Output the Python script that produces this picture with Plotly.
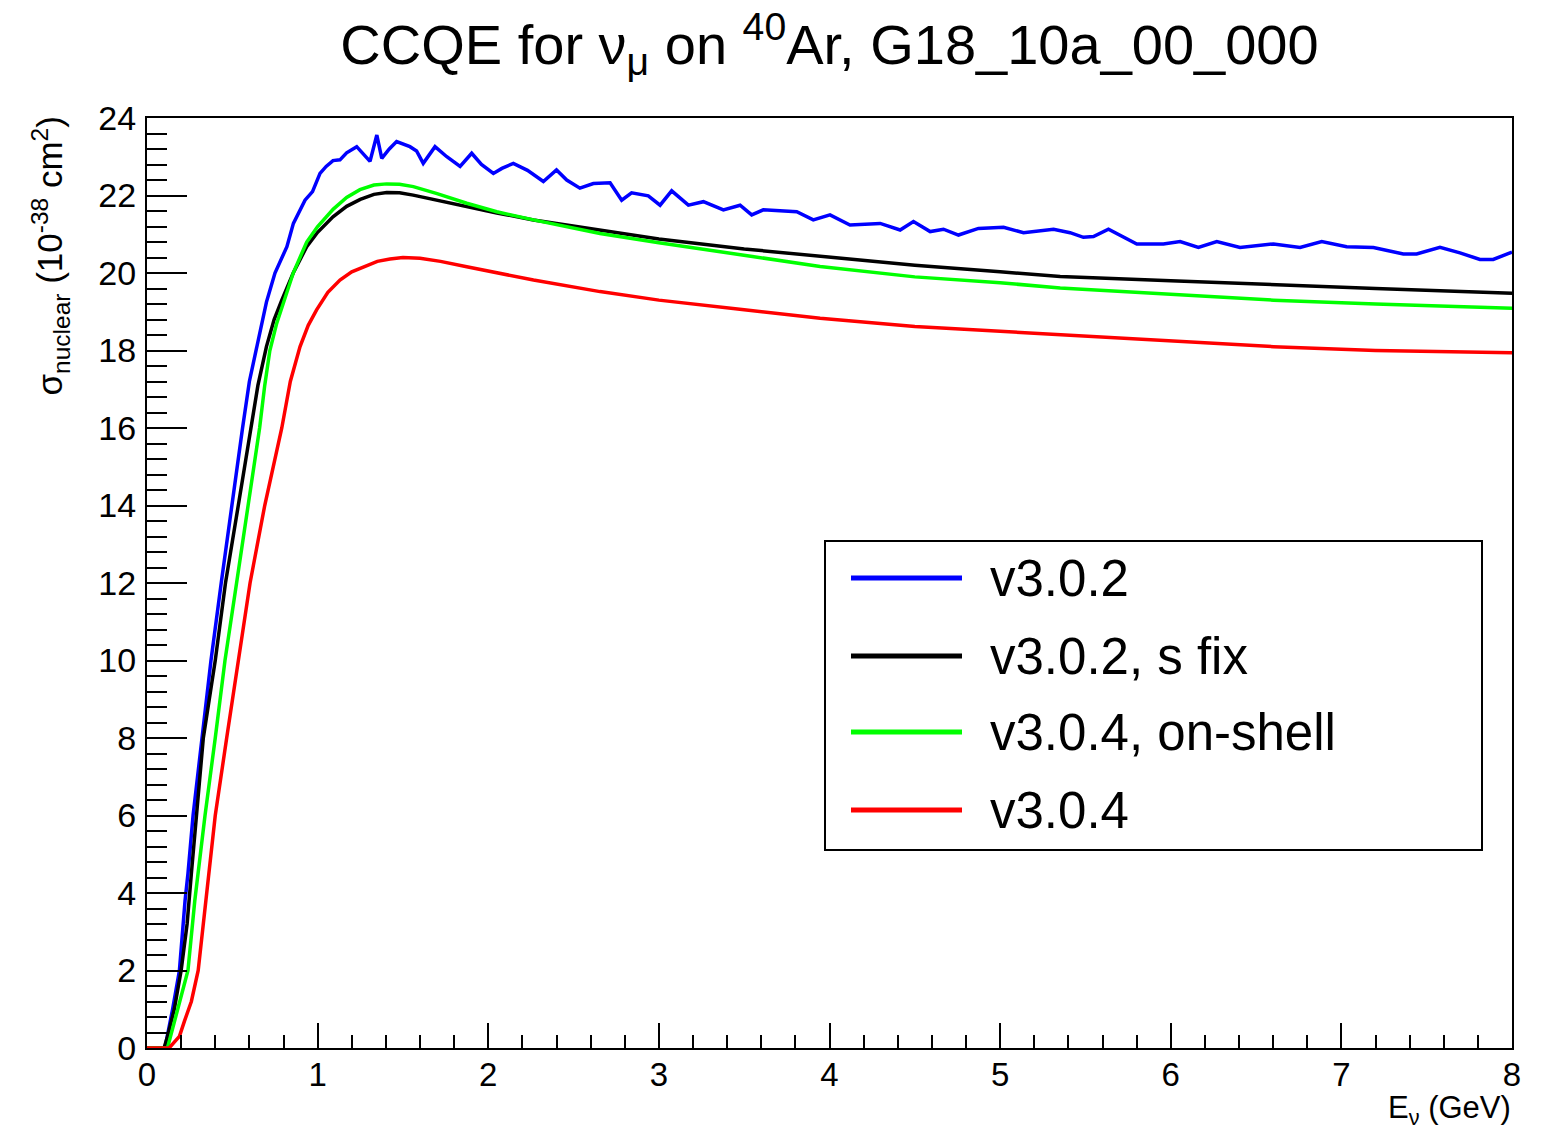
import plotly.graph_objects as go

# ---------------- data ----------------
series_names = ["v3.0.2", "v3.0.2, s fix", "v3.0.4, on-shell", "v3.0.4"]
series_colors = ["#0000ff", "#000000", "#00ff00", "#ff0000"]

blue_E = [0, 0.105, 0.15, 0.19, 0.223, 0.24, 0.27, 0.32, 0.375, 0.435, 0.495, 0.56, 0.60, 0.643,
          0.70, 0.75, 0.82, 0.858, 0.926, 0.97, 1.014, 1.05, 1.09, 1.131, 1.17, 1.229, 1.27, 1.307,
          1.347, 1.376, 1.42, 1.463, 1.541, 1.58, 1.619, 1.688, 1.757, 1.835, 1.903, 1.96, 2.03,
          2.08, 2.147, 2.23, 2.323, 2.40, 2.46, 2.537, 2.616, 2.714, 2.782, 2.84, 2.938, 3.007,
          3.075, 3.173, 3.261, 3.378, 3.476, 3.544, 3.612, 3.808, 3.905, 4.003, 4.12, 4.297, 4.414,
          4.492, 4.59, 4.668, 4.756, 4.873, 5.02, 5.137, 5.313, 5.41, 5.488, 5.547, 5.635, 5.801,
          5.957, 6.055, 6.162, 6.27, 6.406, 6.602, 6.758, 6.885, 7.031, 7.188, 7.363, 7.441, 7.578,
          7.695, 7.812, 7.89, 8.0]
blue_sigma = [0, 0, 1.0, 2.0, 3.8, 4.5, 6.0, 8.0, 10.0, 12.0, 14.0, 16.0, 17.2, 18.1,
              19.25, 20.0, 20.68, 21.28, 21.88, 22.1, 22.57, 22.75, 22.9, 22.92, 23.1, 23.26, 23.05, 22.88,
              23.56, 22.96, 23.2, 23.39, 23.26, 23.15, 22.83, 23.26, 23.0, 22.75, 23.09, 22.8, 22.57,
              22.7, 22.83, 22.65, 22.36, 22.66, 22.4, 22.19, 22.31, 22.33, 21.88, 22.07, 21.99, 21.75,
              22.12, 21.75, 21.84, 21.63, 21.75, 21.5, 21.63, 21.58, 21.37, 21.5, 21.24, 21.28, 21.11,
              21.33, 21.07, 21.13, 20.98, 21.15, 21.18, 21.04, 21.13, 21.04, 20.92, 20.94, 21.13, 20.75,
              20.75, 20.81, 20.66, 20.81, 20.66, 20.75, 20.66, 20.81, 20.68, 20.66, 20.49, 20.49, 20.66,
              20.52, 20.35, 20.35, 20.54]

black_E = [0, 0.10, 0.12, 0.16, 0.20, 0.235, 0.26, 0.29, 0.33, 0.40, 0.46, 0.535, 0.61, 0.65,
           0.70, 0.745, 0.79, 0.857, 0.936, 1.0, 1.09, 1.17, 1.25, 1.33, 1.405, 1.48, 1.56, 1.7,
           1.874, 2.05, 2.265, 2.655, 3.0, 3.5, 3.945, 4.5, 5.0, 5.352, 6.0, 6.602, 7.2, 8.0]
black_sigma = [0, 0, 0.3, 1.0, 2.0, 3.2, 4.5, 6.0, 8.0, 10.0, 12.0, 14.0, 16.0, 17.1,
               18.1, 18.8, 19.3, 20.0, 20.68, 21.05, 21.45, 21.72, 21.9, 22.03, 22.08, 22.07, 22.01, 21.88,
               21.7, 21.55, 21.37, 21.1, 20.88, 20.62, 20.43, 20.2, 20.03, 19.91, 19.8, 19.69, 19.6, 19.48]

green_E = [0, 0.12, 0.18, 0.24, 0.28, 0.34, 0.40, 0.457, 0.525, 0.594, 0.66, 0.69, 0.72, 0.76,
           0.80, 0.857, 0.936, 1.0, 1.092, 1.17, 1.248, 1.33, 1.405, 1.48, 1.561, 1.7, 1.874,
           2.05, 2.265, 2.655, 3.0, 3.5, 3.945, 4.5, 5.0, 5.352, 6.0, 6.602, 7.2, 8.0]
green_sigma = [0, 0, 1.0, 2.0, 3.8, 6.0, 8.0, 10.0, 12.0, 14.0, 16.0, 17.1, 18.0, 18.7,
               19.25, 20.0, 20.8, 21.2, 21.65, 21.95, 22.15, 22.27, 22.30, 22.29, 22.23, 22.05, 21.8,
               21.58, 21.37, 21.02, 20.78, 20.45, 20.17, 19.9, 19.75, 19.61, 19.45, 19.30, 19.2, 19.09]

red_E = [0, 0.13, 0.16, 0.19, 0.22, 0.26, 0.30, 0.35, 0.40, 0.467, 0.535, 0.604, 0.69, 0.79,
         0.84, 0.897, 0.945, 0.994, 1.06, 1.131, 1.2, 1.287, 1.35, 1.424, 1.5, 1.60, 1.72, 1.874,
         2.05, 2.265, 2.655, 3.0, 3.5, 3.945, 4.5, 5.0, 5.352, 6.0, 6.602, 7.2, 8.0]
red_sigma = [0, 0, 0.15, 0.3, 0.7, 1.2, 2.0, 4.0, 6.0, 8.0, 10.0, 12.0, 14.0, 16.0,
             17.2, 18.1, 18.65, 19.05, 19.5, 19.82, 20.03, 20.2, 20.3, 20.36, 20.4, 20.38, 20.3, 20.16,
             20.0, 19.82, 19.52, 19.3, 19.05, 18.83, 18.62, 18.5, 18.4, 18.25, 18.1, 18.0, 17.94]

x_tick_vals = [0, 1, 2, 3, 4, 5, 6, 7, 8]
y_tick_vals = [0, 2, 4, 6, 8, 10, 12, 14, 16, 18, 20, 22, 24]

# ---------------- figure ----------------
FONT = "Liberation Sans, Arial, Helvetica, sans-serif"
W, H = 1547, 1130
ML, MR, MT, MB = 147, 35, 118, 82
PW, PH = W - ML - MR, H - MT - MB


def px_x(px):
    return (px - ML) / PW


def px_y(py):
    return (H - MB - py) / PH


fig = go.Figure()
all_E = [blue_E, black_E, green_E, red_E]
all_S = [blue_sigma, black_sigma, green_sigma, red_sigma]
for name, color, xs, ys in zip(series_names, series_colors, all_E, all_S):
    fig.add_trace(go.Scatter(x=xs, y=ys, mode="lines", name=name,
                             line=dict(color=color, width=3.5), showlegend=False))

fig.update_layout(
    width=W, height=H,
    margin=dict(l=ML, r=MR, t=MT, b=MB),
    paper_bgcolor="white", plot_bgcolor="white",
    font=dict(family=FONT, color="black"),
    title=dict(text="CCQE for ν<sub>μ</sub> on <sup>40</sup>Ar, G18_10a_00_000",
               x=px_x(829.5), xref="paper", xanchor="center",
               y=1 - 44 / H, yref="container", yanchor="middle",
               font=dict(size=56, family=FONT, color="black")),
)

fig.update_xaxes(
    range=[0, 8], tickvals=x_tick_vals, ticktext=[str(v) for v in x_tick_vals],
    ticks="inside", ticklen=25, tickwidth=2, tickcolor="black",
    minor=dict(dtick=0.2, ticks="inside", ticklen=13, tickwidth=2, tickcolor="black"),
    showline=True, linecolor="black", linewidth=2, mirror=True,
    showgrid=False, zeroline=False,
    tickfont=dict(size=33, family=FONT, color="black"), ticklabelstandoff=-4,
)
fig.update_yaxes(
    range=[0, 24], tickvals=y_tick_vals, ticktext=[str(v) for v in y_tick_vals],
    ticks="inside", ticklen=40, tickwidth=2, tickcolor="black",
    minor=dict(dtick=0.4, ticks="inside", ticklen=20, tickwidth=2, tickcolor="black"),
    showline=True, linecolor="black", linewidth=2, mirror=True,
    showgrid=False, zeroline=False,
    tickfont=dict(size=34, family=FONT, color="black"), ticklabelstandoff=2,
)

# axis titles (ROOT style: aligned to the axis end)
fig.add_annotation(text="σ<sub>nuclear</sub> (10<sup>-38</sup> cm<sup>2</sup>)",
                   xref="paper", yref="paper", x=px_x(50), y=px_y(115),
                   xanchor="center", yanchor="top", textangle=-90, showarrow=False,
                   font=dict(size=35, family=FONT, color="black"))
fig.add_annotation(text="E<sub>ν</sub> (GeV)",
                   xref="paper", yref="paper", x=1.0, y=px_y(1131),
                   xanchor="right", yanchor="bottom", showarrow=False, borderpad=0,
                   font=dict(size=31, family=FONT, color="black"))

# legend box drawn ROOT-style
fig.add_shape(type="rect", xref="paper", yref="paper",
              x0=px_x(825), x1=px_x(1482), y0=px_y(850), y1=px_y(541),
              line=dict(color="black", width=2), fillcolor="white", layer="above")
row_y = [578, 656, 732, 810]
for name, color, ry in zip(series_names, series_colors, row_y):
    fig.add_shape(type="line", xref="paper", yref="paper",
                  x0=px_x(851), x1=px_x(962), y0=px_y(ry), y1=px_y(ry),
                  line=dict(color=color, width=5), layer="above")
    fig.add_annotation(text=name, xref="paper", yref="paper",
                       x=px_x(988), y=px_y(ry), xanchor="left", yanchor="middle",
                       showarrow=False, font=dict(size=51, family=FONT, color="black"))

fig.write_html("out.html")
